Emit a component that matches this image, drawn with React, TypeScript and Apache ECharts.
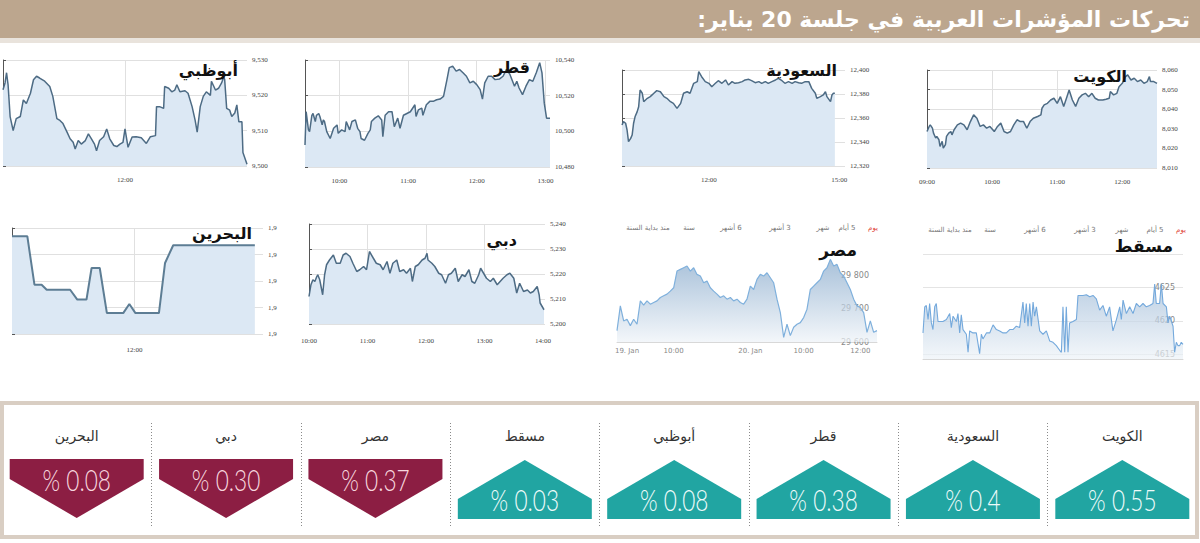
import { useEffect, useRef } from 'react';
import * as echarts from 'echarts';

// ---------------- DATA ----------------
const pageTitle = 'تحركات المؤشرات العربية في جلسة 20 يناير:\u200F';

// أبوظبي (minutes after 10:00)
const abuDhabiTimes = [0,2,3.5,5,7,10,13,17,20,23,27,30,33,36,41,46,49,53,56,59,63,66,69,71,74,77,81,84,87,90,92,95,99,102,105,109,112,115,118,120,123,127,131,136,141,145,150,151,154,158,159,163,166,169,171,174,179,182,186,189,191,194,197,200,204,205,209,212,215,217,218,220,223,225,228,230,232,235,236,240];
const abuDhabiValues = [9521.6,9523.5,9526.4,9523,9514,9510,9513.4,9514,9518.7,9517.7,9520.6,9524.4,9525.4,9524.9,9524,9522.5,9519.7,9513.4,9512.9,9512,9509.6,9507.7,9506.7,9504.8,9507.2,9506.2,9507.2,9509.1,9507.7,9506.2,9504.3,9507.2,9508.3,9510.5,9507.7,9505.8,9505.5,9506.2,9506.7,9510.5,9505.3,9508.2,9508.3,9508,9506.4,9508.3,9508.6,9516.8,9516.8,9516.3,9522.5,9522,9521,9521.5,9523,9521,9521.3,9520.6,9516.8,9512.9,9509.6,9516.8,9519.7,9521,9520,9524,9521.5,9522,9523.5,9525.1,9524.6,9516.3,9515.8,9514,9515,9517.3,9512.5,9512.5,9503.8,9500.5];
const abuDhabiTickTimes = [120];
const abuDhabiTickLabels = ['12:00'];

// قطر (minutes after 09:30)
const qatarTimes = [0,1,3,4,6,7,9,10,12,13,15,16,17,19,22,25,28,29,32,35,36,39,41,44,46,48,49,52,55,57,58,61,64,67,68,70,73,76,78,81,83,86,89,92,96,97,99,102,103,106,109,112,115,118,121,124,126,129,132,135,138,141,144,147,150,153,155,157,160,163,166,170,173,176,179,183,185,187,190,193,196,199,202,205,207,209,211,214];
const qatarValues = [10492.3,10511,10500.8,10499.8,10509,10510,10505.5,10509,10510,10508.3,10503.6,10506.4,10505.5,10499.8,10496,10501.7,10503.6,10498.9,10500.8,10499.8,10505.5,10500.8,10505.5,10506.4,10501.7,10499.8,10496,10495,10498.9,10500.8,10505.5,10507.4,10508.7,10506.4,10497,10509,10511,10511,10502.6,10507.4,10501.7,10509,10510,10511,10514.9,10508.3,10512,10513,10509,10514.9,10516.8,10516.8,10517.7,10518.1,10519.6,10529,10535.7,10536.6,10533.8,10534.7,10532.8,10530.9,10527.2,10528.1,10526.2,10523.4,10518.1,10527.2,10530.9,10530.9,10529,10529.4,10530.9,10534.7,10531.9,10525.3,10528.1,10524.3,10520.6,10525.3,10529,10528.1,10532.8,10538.5,10532.8,10515.8,10507.4,10507.4];
const qatarTickTimes = [30, 90, 150, 210];
const qatarTickLabels = ['10:00', '11:00', '12:00', '13:00'];

// السعودية (minutes after 10:00)
const saudiTimes = [0,2,5,7,9,12,14,16,18,21,23,25,28,30,35,39,44,48,53,58,62,67,71,76,81,85,90,94,99,104,106,110,115,120,124,129,133,138,143,147,152,156,161,166,170,175,179,184,189,193,198,202,207,212,216,221,225,230,235,239,244,248,253,258,262,267,269,274,278,281,283,288,290,292,294];
const saudiValues = [12354.2,12357,12355.6,12350,12340.3,12343,12345.8,12355.6,12361,12365.3,12369.4,12383.3,12380.6,12373.6,12376.4,12377.8,12380.6,12382.8,12381.9,12377.8,12376.4,12373.6,12372.2,12368,12372.2,12380.6,12381.9,12380.6,12388.9,12390.3,12398.6,12394.4,12390.3,12388.9,12386.1,12388.9,12391.1,12388.9,12391.7,12387.5,12390.3,12388.9,12389.4,12390.3,12391.7,12392.2,12391.1,12389.4,12390.3,12388.9,12390.3,12388.9,12390.3,12391.7,12393,12391.1,12388.9,12390.3,12388.9,12390.3,12389.4,12388.9,12390.3,12390.3,12384.7,12380.6,12376.4,12377.8,12379.2,12381.9,12377.8,12373.6,12379.2,12380.6,12380.6];
const saudiTickTimes = [120, 300];
const saudiTickLabels = ['12:00', '15:00'];

// الكويت (minutes after 09:00)
const kuwaitTimes = [0,2,3,5,6,8,9,11,12,14,15,17,18,20,22,23,25,28,31,34,37,40,43,46,49,52,55,58,62,65,68,71,74,77,80,83,86,89,92,95,98,102,105,106,108,111,114,117,120,123,126,129,131,134,137,140,143,146,149,152,155,158,162,165,168,169,172,175,177,180,183,185,188,191,194,197,200,203,205,206,209,212];
const kuwaitValues = [8028.6,8031.2,8032,8030.3,8027.8,8025.3,8026.1,8024.4,8021,8023.6,8020.2,8021.9,8026.1,8027.8,8028.6,8026.9,8029.5,8032,8032.9,8032,8029.5,8033.7,8037.1,8035.4,8031.2,8032,8030.3,8031.2,8028.6,8031.2,8032.9,8028.6,8027.8,8028.6,8032,8034.6,8033.7,8033.7,8030.3,8033.7,8035.4,8036.3,8037.1,8040.5,8042.2,8043,8044.7,8045.6,8043,8046.4,8041.4,8046.4,8049.8,8044.7,8041.4,8045.6,8047.3,8048.1,8046.4,8048.1,8045.6,8044.7,8044.7,8045.1,8045.6,8049,8047.3,8048.1,8051.5,8053.2,8056.6,8057.5,8054.9,8055.8,8054.1,8054.9,8053.2,8054.1,8056.6,8054.1,8054.1,8053.2];
const kuwaitTickTimes = [0, 60, 120, 180];
const kuwaitTickLabels = ['09:00', '10:00', '11:00', '12:00'];

// البحرين (minutes after 10:00)
const bahrainTimes = [0,15,22,29,34,57,64,73,78,86,93,109,115,121,144,150,158,238];
const bahrainValues = [1968.69,1968.69,1966.86,1966.86,1966.67,1966.67,1966.3,1966.3,1967.49,1967.49,1965.79,1965.79,1966.13,1965.79,1965.79,1967.68,1968.35,1968.35];
const bahrainTickTimes = [120];
const bahrainTickLabels = ['12:00'];
const bahrainValueLabels = ['1,9', '1,9', '1,9', '1,9', '1,9'];

// دبي (minutes after 10:00)
const dubaiTimes = [0,2,4,6,8,9,11,14,16,18,21,25,28,32,35,38,42,45,49,52,56,59,62,66,69,73,76,80,83,86,90,93,97,100,104,106,109,112,116,119,121,122,126,129,133,136,140,143,146,150,153,157,160,164,167,170,174,176,179,182,186,189,193,196,199,203,206,210,213,216,220,224,227,230,234,236,237,241];
const dubaiValues = [5211,5215.7,5217.7,5217,5219,5219.7,5217.7,5211.7,5219.7,5223.7,5225.6,5227.6,5224.3,5224.3,5227.6,5228.3,5227,5224.3,5221,5221.7,5223,5221.7,5229,5226.3,5224.3,5223.7,5221.7,5225,5220.3,5224.3,5225.6,5221,5221.7,5220.3,5222.3,5217,5223,5223.7,5225.6,5226.3,5228.3,5225.6,5224.3,5223,5220.3,5219.7,5216.3,5219.7,5220.3,5222.3,5217,5219.7,5219,5221.7,5217,5216.3,5219.7,5222.3,5220.3,5218.3,5217,5218.3,5215.7,5217,5218.3,5219.7,5220.3,5218.3,5212.4,5216.3,5213,5213.6,5212.4,5213,5215,5211.7,5208.4,5205.7];
const dubaiTickTimes = [0, 60, 120, 180, 240];
const dubaiTickLabels = ['10:00', '11:00', '12:00', '13:00', '14:00'];

// مصر (evenly spaced samples)
const egyptValues = [29634,29708,29663,29668,29649,29668,29653,29723,29710,29723,29713,29718,29723,29733,29738,29743,29752,29762,29812,29817,29822,29827,29812,29822,29802,29797,29777,29782,29762,29752,29743,29733,29738,29728,29733,29723,29728,29718,29713,29728,29767,29757,29787,29802,29797,29807,29792,29777,29728,29688,29614,29653,29619,29644,29653,29658,29673,29698,29757,29767,29777,29787,29812,29822,29847,29827,29832,29807,29797,29777,29757,29728,29708,29703,29688,29629,29663,29629,29634];
const egyptLabelIndex = [3, 17, 40, 56, 73];
const egyptLabelText = ['19. Jan', '10:00', '20. Jan', '10:00', '12:00'];

// مسقط (minutes after 10:00)
const muscatTimes = [0,1.2,2.3,3.5,4.6,5.8,6.9,8.1,9.2,10.4,11.5,13.8,16.2,18.5,19.6,20.8,23.1,24.2,25.4,26.5,27.7,30,31.2,32.3,34.6,36.9,39.2,40.4,41.5,43.9,46.2,48.5,50.8,53.1,55.4,57.7,60,62.3,64.6,66.9,69.2,70.4,71.5,72.7,73.9,75,76.2,77.3,78.5,80.8,83.1,85.4,87.7,90,92.3,94.6,95.8,96.9,98.1,99.2,100.4,101.5,103.8,106.2,107.3,108.5,110.8,113.1,115.4,117.7,120,122.3,124.6,126.9,129.2,131.5,133.9,136.2,137.3,138.5,140.8,143.1,145.4,147.7,150,152.3,154.6,156.9,159.2,160.4,161.5,163.8,165,166.2,168.5,169.6,170.8,173.1,174.2,175.4,176.5,177.7,178.8,180];
const muscatValues = [4618.2,4622.1,4622.3,4620.2,4622.6,4619.7,4618.7,4622.1,4622.6,4619.9,4619.9,4619.9,4620.2,4621.1,4619,4620.7,4619.9,4621.1,4618.2,4620.9,4618.7,4618,4615.3,4618.5,4618.2,4618.2,4615.1,4618,4617.3,4618.2,4618.2,4619.4,4618.7,4618.5,4618.2,4618.2,4618.7,4618.7,4619.2,4619,4622.8,4619.7,4622.6,4619.2,4622.6,4619.2,4622.8,4620.7,4622.1,4618.5,4618,4618.5,4617,4616.8,4616.3,4615.6,4615.3,4622.1,4615.3,4622.1,4615.3,4619.7,4619.9,4620.2,4623.8,4623.8,4623.8,4623.9,4623.6,4623.8,4623.3,4621.6,4622.3,4620.7,4622.1,4618.5,4620.2,4622.1,4620.2,4623.1,4621.1,4622.1,4621.1,4622.6,4622.1,4622.6,4622.1,4622.3,4622.6,4625.5,4622.6,4622.6,4625.6,4622.6,4622.1,4619.7,4620.7,4619.2,4615.3,4616.8,4616.3,4616.3,4616.8,4616.5];

const tabLabels = ['يوم', '\u200F5 أيام', 'شهر', '\u200F3 أشهر', '\u200F6 أشهر', 'سنة', 'منذ بداية السنة'];

// Bottom panel (right to left)
const panelNames = ['الكويت', 'السعودية', 'قطر', 'أبوظبي', 'مسقط', 'مصر', 'دبي', 'البحرين'];
const panelChanges = [0.55, 0.4, 0.38, 0.08, 0.03, -0.37, -0.30, -0.08];
const panelLabels = ['% 0.55', '% 0.4', '% 0.38', '% 0.08', '% 0.03', '% 0.37', '% 0.30', '% 0.08'];

// ---------------- LAYOUT / STYLE ----------------
const T = 'rgba(0,0,0,0)';
const G = '#e0e0e0';
const axisFont = { fontSize: 7, color: '#444', fontFamily: 'Liberation Serif' };
const arabicFont = 'DejaVu Sans';

const zip = (a: number[], b: number[]) => a.map((t, i) => [t, b[i]]);
const fmtComma = (v: number) => v.toLocaleString('en-US');

const lineCharts = [
  { title: 'أبوظبي', tx: 238, ty: 70, grid: { left: 3, top: 60, width: 244, height: 106 }, times: abuDhabiTimes, values: abuDhabiValues, xMax: 240, xInt: 120, tickTimes: abuDhabiTickTimes, tickLabels: abuDhabiTickLabels, split: [T, G, T], yMin: 9500, yMax: 9530, yInt: 10, yFmt: (v: number) => fmtComma(v), lm: 10 },
  { title: 'قطر', tx: 530, ty: 67, grid: { left: 305, top: 60, width: 245, height: 107 }, times: qatarTimes, values: qatarValues, xMax: 214, xInt: 30, tickTimes: qatarTickTimes, tickLabels: qatarTickLabels, split: [T, G], yMin: 10480, yMax: 10540, yInt: 20, yFmt: (v: number) => fmtComma(v), lm: 10 },
  { title: 'السعودية', tx: 837, ty: 70, grid: { left: 622, top: 70, width: 223, height: 96 }, times: saudiTimes, values: saudiValues, xMax: 308, xInt: 60, tickTimes: saudiTickTimes, tickLabels: saudiTickLabels, split: [T, T, G, T, T, T, T], yMin: 12320, yMax: 12400, yInt: 20, yFmt: (v: number) => fmtComma(v), lm: 10 },
  { title: 'الكويت', tx: 1127, ty: 76, grid: { left: 927, top: 70, width: 230, height: 98 }, times: kuwaitTimes, values: kuwaitValues, xMax: 212, xInt: 60, tickTimes: kuwaitTickTimes, tickLabels: kuwaitTickLabels, split: [G, G, G, G, T], yMin: 8010, yMax: 8060, yInt: 10, yFmt: (v: number) => fmtComma(v), lm: 10 },
  { title: 'البحرين', tx: 252, ty: 233, grid: { left: 12, top: 228, width: 251, height: 106 }, times: bahrainTimes, values: bahrainValues, xMax: 246, xInt: 120, tickTimes: bahrainTickTimes, tickLabels: bahrainTickLabels, split: [T, G, T, T], yMin: 1965, yMax: 1969, yInt: 1, yFmt: (_v: number, i: number) => bahrainValueLabels[i] ?? '', lm: 12 },
  { title: 'دبي', tx: 517, ty: 240, grid: { left: 309, top: 224, width: 236, height: 100 }, times: dubaiTimes, values: dubaiValues, xMax: 242, xInt: 60, tickTimes: dubaiTickTimes, tickLabels: dubaiTickLabels, split: [G, G, G, G, T, T], yMin: 5200, yMax: 5240, yInt: 10, yFmt: (v: number) => fmtComma(v), lm: 13 },
];

function txt(x: number, y: number, text: string, o: any = {}) {
  return {
    type: 'text', x, y, z: 100, silent: true,
    style: {
      text, fill: o.fill ?? '#111', fontSize: o.fontSize ?? 12, fontFamily: o.fontFamily ?? arabicFont,
      fontWeight: o.fontWeight ?? 'normal',
      align: o.align ?? 'center', textAlign: o.align ?? 'center',
      verticalAlign: 'middle', textVerticalAlign: 'middle',
    },
  };
}

function buildOption() {
  const grid: any[] = [];
  const xAxis: any[] = [];
  const yAxis: any[] = [];
  const series: any[] = [];
  const graphic: any[] = [];

  graphic.push({ type: 'rect', z: -10, silent: true, shape: { x: 0, y: 0, width: 1200, height: 38 }, style: { fill: '#bca68e' } });
  graphic.push({ type: 'rect', z: -10, silent: true, shape: { x: 0, y: 38, width: 1200, height: 5 }, style: { fill: '#e9e3dc' } });
  graphic.push(txt(1190, 19, pageTitle, { fill: '#ffffff', fontSize: 22, fontWeight: 'bold', align: 'right' }));
  graphic.push({ type: 'rect', z: -10, silent: true, shape: { x: 2, y: 403, width: 1195, height: 134 }, style: { fill: '#ffffff', stroke: '#d9cec3', lineWidth: 4 } });

  lineCharts.forEach((c, gi) => {
    grid.push({ ...c.grid, containLabel: false });
    xAxis.push({
      type: 'value', gridIndex: gi, min: 0, max: c.xMax, interval: c.xInt,
      axisLine: { show: false }, axisTick: { show: false },
      axisLabel: {
        ...axisFont, margin: c.lm, showMinLabel: true, showMaxLabel: true,
        formatter: (v: number) => { const k = c.tickTimes.indexOf(v); return k >= 0 ? c.tickLabels[k] : ''; },
      },
      splitLine: { show: true, lineStyle: { color: c.split, width: 1 } },
    });
    yAxis.push({
      type: 'value', gridIndex: gi, position: 'right', min: c.yMin, max: c.yMax, interval: c.yInt,
      axisLine: { show: true, lineStyle: { color: '#555', width: 1 } },
      axisTick: { show: true, length: 3, lineStyle: { color: '#555' } },
      axisLabel: { ...axisFont, margin: 5, formatter: c.yFmt },
      splitLine: { show: true, lineStyle: { color: G } },
    });
    series.push({
      type: 'line', xAxisIndex: gi, yAxisIndex: gi, data: zip(c.times, c.values),
      symbol: 'none', showSymbol: false, silent: true,
      lineStyle: { color: gi === 4 ? '#5d7d94' : '#4d6b84', width: gi === 4 ? 2 : 1.5 },
      areaStyle: { color: '#dce8f4', opacity: 1 },
    });
    graphic.push(txt(c.tx, c.ty, c.title, { fontSize: 16, fontWeight: 'bold', align: 'right' }));
  });

  // مصر (grid 6)
  grid.push({ left: 617, top: 255, width: 260, height: 87 });
  xAxis.push({
    type: 'category', gridIndex: 6, boundaryGap: false, data: egyptValues.map((_, i) => String(i)),
    axisLine: { show: true, lineStyle: { color: '#d8d8d8' } }, axisTick: { show: false },
    axisLabel: {
      interval: 0, fontSize: 7, color: '#888', margin: 5, fontFamily: 'DejaVu Sans',
      formatter: (_v: string, i: number) => { const k = egyptLabelIndex.indexOf(i); return k >= 0 ? egyptLabelText[k] : ''; },
    },
    splitLine: { show: false },
  });
  yAxis.push({
    type: 'value', gridIndex: 6, position: 'right', min: 29600, max: 29860, interval: 100,
    axisLine: { show: false }, axisTick: { show: false }, splitLine: { show: false },
    axisLabel: { inside: true, showMaxLabel: false, fontSize: 8, color: '#888', fontFamily: 'DejaVu Sans',
      formatter: (v: number) => `${Math.floor(v / 1000)} ${String(v % 1000).padStart(3, '0')}` },
  });
  series.push({
    type: 'line', xAxisIndex: 6, yAxisIndex: 6, data: egyptValues, symbol: 'none', silent: true,
    lineStyle: { color: '#7fb0dc', width: 1.2 },
    areaStyle: { color: new echarts.graphic.LinearGradient(0, 0, 0, 1, [{ offset: 0, color: '#84a7ca' }, { offset: 1, color: '#eef3f8' }]) },
  });
  graphic.push(txt(857, 250, 'مصر', { fontSize: 17, fontWeight: 'bold', align: 'right' }));
  const egyptTabX = [873, 847, 823, 780, 731, 689, 648];
  tabLabels.forEach((t, i) => graphic.push(txt(egyptTabX[i], 228, t, { fontSize: 7, fill: i === 0 ? '#e0443a' : '#777' })));

  // مسقط (grid 7)
  grid.push({ left: 923, top: 254, width: 260, height: 105 });
  xAxis.push({
    type: 'value', gridIndex: 7, min: 0, max: 180,
    axisLine: { show: true, lineStyle: { color: '#d8d8d8' } }, axisTick: { show: false },
    axisLabel: { show: false }, splitLine: { show: false },
  });
  yAxis.push({
    type: 'value', gridIndex: 7, position: 'right', min: 4614.3, max: 4630, splitNumber: 3,
    axisLine: { show: false }, axisTick: { show: false },
    splitLine: { show: true, lineStyle: { color: '#e4e4e4' } },
    axisLabel: { inside: true, showMinLabel: false, showMaxLabel: false, fontSize: 8, color: '#888', fontFamily: 'DejaVu Sans',
      formatter: (v: number) => String(v) },
  });
  series.push({
    type: 'line', xAxisIndex: 7, yAxisIndex: 7, data: zip(muscatTimes, muscatValues), symbol: 'none', silent: true,
    lineStyle: { color: '#74a9dc', width: 1.1 },
    areaStyle: { color: new echarts.graphic.LinearGradient(0, 0, 0, 1, [{ offset: 0, color: '#a0bcd8' }, { offset: 1, color: '#eef3f8' }]) },
  });
  graphic.push(txt(1173, 246, 'مسقط', { fontSize: 17, fontWeight: 'bold', align: 'right' }));
  const muscatTabX = [1181, 1155, 1122, 1085, 1035, 990, 950];
  tabLabels.forEach((t, i) => graphic.push(txt(muscatTabX[i], 230, t, { fontSize: 7, fill: i === 0 ? '#e0443a' : '#777' })));

  // Bottom panel (grid 8)
  grid.push({ left: 2, top: 423, width: 1195, height: 104 });
  xAxis.push({
    type: 'category', gridIndex: 8, data: panelNames, inverse: true, boundaryGap: true,
    axisLine: { show: false }, axisTick: { show: false }, axisLabel: { show: false },
    splitLine: { show: true, lineStyle: { type: [1, 2], color: [T, '#8a8a8a', '#8a8a8a', '#8a8a8a', '#8a8a8a', '#8a8a8a', '#8a8a8a', '#8a8a8a', T] } },
  });
  yAxis.push({ type: 'value', gridIndex: 8, min: 0, max: 1, show: false });
  series.push({
    type: 'custom', xAxisIndex: 8, yAxisIndex: 8, silent: true,
    data: panelChanges.map((v, i) => ({ name: panelNames[i], value: [i, v] })),
    renderItem: (params: any, api: any) => {
      const i = params.dataIndex;
      const v = api.value(1);
      const cx = api.coord([api.value(0), 0])[0];
      const h = 67;
      const up = v >= 0;
      const points = up
        ? [[cx - h, 519], [cx - h, 499], [cx, 460], [cx + h, 499], [cx + h, 519]]
        : [[cx - h, 459], [cx + h, 459], [cx + h, 479], [cx, 518], [cx - h, 479]];
      return {
        type: 'group',
        children: [
          { type: 'polygon', shape: { points }, style: { fill: up ? '#21a5a2' : '#8c1e43' } },
          {
            type: 'text', x: cx, y: up ? 500 : 480, scaleX: 0.78,
            style: { text: panelLabels[i], fill: up ? '#eefbfa' : '#f7d6df', fontSize: 29, fontFamily: 'Lato', fontWeight: 300,
              align: 'center', textAlign: 'center', verticalAlign: 'middle', textVerticalAlign: 'middle' },
          },
          {
            type: 'text', x: cx, y: 436,
            style: { text: panelNames[i], fill: '#333', fontSize: 14, fontFamily: arabicFont,
              align: 'center', textAlign: 'center', verticalAlign: 'middle', textVerticalAlign: 'middle' },
          },
        ],
      };
    },
  });

  return { animation: false, backgroundColor: '#ffffff', grid, xAxis, yAxis, series, graphic };
}

export default function App() {
  const ref = useRef<HTMLDivElement>(null);
  useEffect(() => {
    const chart = echarts.init(ref.current!, null, { renderer: 'svg' });
    chart.setOption(buildOption() as any);
    return () => chart.dispose();
  }, []);
  return <div ref={ref} style={{ position: 'absolute', left: 0, top: 0, width: 1200, height: 543, background: '#fff' }} />;
}
